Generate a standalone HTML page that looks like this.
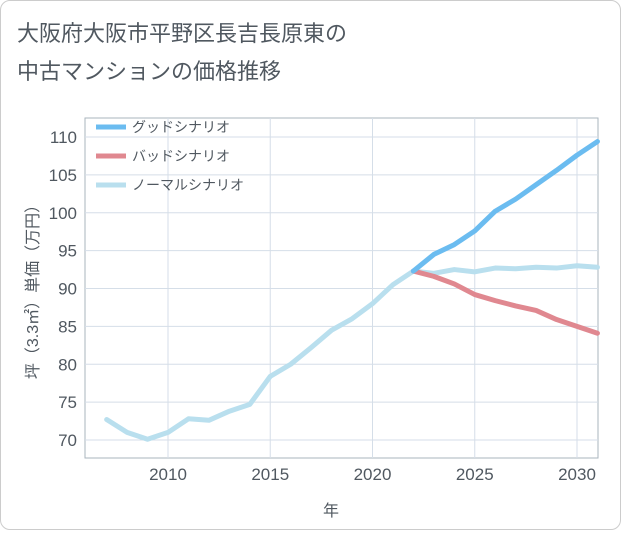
<!DOCTYPE html>
<html><head><meta charset="utf-8"><style>
body{margin:0;background:#fff;font-family:"Liberation Sans","Noto Sans CJK JP",sans-serif;}
#card{position:absolute;left:0;top:0;width:619px;height:528px;border:1px solid #ccc;border-radius:10px;background:#fff;}
</style></head><body>
<div id="card">
<svg width="621" height="530" id="svg">
<text x="16" y="40" font-size="22" fill="#505860">大阪府大阪市平野区長吉長原東の</text>
<text x="16" y="78" font-size="22" fill="#505860">中古マンションの価格推移</text>
<g id="grid"></g><g id="lines"></g><g id="legend"></g>
<text x="330" y="515" font-size="16" fill="#505860" text-anchor="middle">年</text>
<text transform="translate(37,287) rotate(-90)" font-size="16" fill="#505860" text-anchor="middle">坪（3.3㎡）単価（万円）</text>
</svg></div>
<script>
const years=[2007,2008,2009,2010,2011,2012,2013,2014,2015,2016,2017,2018,2019,2020,2021,2022,2023,2024,2025,2026,2027,2028,2029,2030,2031];
const normal=[72.7,71,70.1,71,72.8,72.6,73.8,74.7,78.4,80,82.2,84.5,86,88,90.5,92.3,92,92.5,92.2,92.7,92.6,92.8,92.7,93,92.8];
const goodYears=[2022,2023,2024,2025,2026,2027,2028,2029,2030,2031];
const good=[92.3,94.5,95.8,97.6,100.2,101.8,103.7,105.6,107.6,109.4];
const bad=[92.3,91.6,90.6,89.2,88.4,87.7,87.1,85.9,85,84.1];
const xTicks=[2010,2015,2020,2025,2030];
const yTicks=[70,75,80,85,90,95,100,105,110];
const L=84,R=597,T=117,B=457;
const x=v=>167+(v-2010)*20.45;
const y=v=>439-(v-70)*7.575;
const ns="http://www.w3.org/2000/svg";
function mk(p,t,a){const e=document.createElementNS(ns,t);for(const k in a)e.setAttribute(k,a[k]);p.appendChild(e);return e;}
const g=document.getElementById('grid');
const bg=mk(g,'rect',{x:L,y:T,width:R-L,height:B-T,fill:'#fff',stroke:'#aab4be'});


xTicks.forEach(t=>{const l=mk(g,'line',{x1:x(t),x2:x(t),y1:T,y2:B,stroke:'#d5dee8'});


const tx=mk(g,'text',{x:x(t),y:B+22,'font-size':17,fill:'#505860','text-anchor':'middle'});tx.textContent=t;

});
yTicks.forEach(t=>{const l=mk(g,'line',{x1:L,x2:R,y1:y(t),y2:y(t),stroke:'#d5dee8'});


const tx=mk(g,'text',{x:L-8,y:y(t)+6,'font-size':17,fill:'#505860','text-anchor':'end'});tx.textContent=t;

});
const lg=document.getElementById('lines');
function line(xs,vs,c,name){const p=mk(lg,'polyline',{points:xs.map((v,i)=>x(v)+','+y(vs[i])).join(' '),fill:'none',stroke:c,'stroke-width':5,'stroke-linejoin':'round','stroke-linecap':'round'});

}
line(years,normal,'#b9dfee','normal-line');
line(goodYears,bad,'#e08890','bad-line');
line(goodYears,good,'#6bbcf0','good-line');
const leg=document.getElementById('legend');
[['グッドシナリオ','#6bbcf0'],['バッドシナリオ','#e08890'],['ノーマルシナリオ','#b9dfee']].forEach((d,i)=>{
const yy=126+i*29;
const l=mk(leg,'line',{x1:95,x2:125,y1:yy,y2:yy,stroke:d[1],'stroke-width':5});


const t=mk(leg,'text',{x:131,y:yy+5,'font-size':14,fill:'#505860'});t.textContent=d[0];

});
</script>
</body></html>
